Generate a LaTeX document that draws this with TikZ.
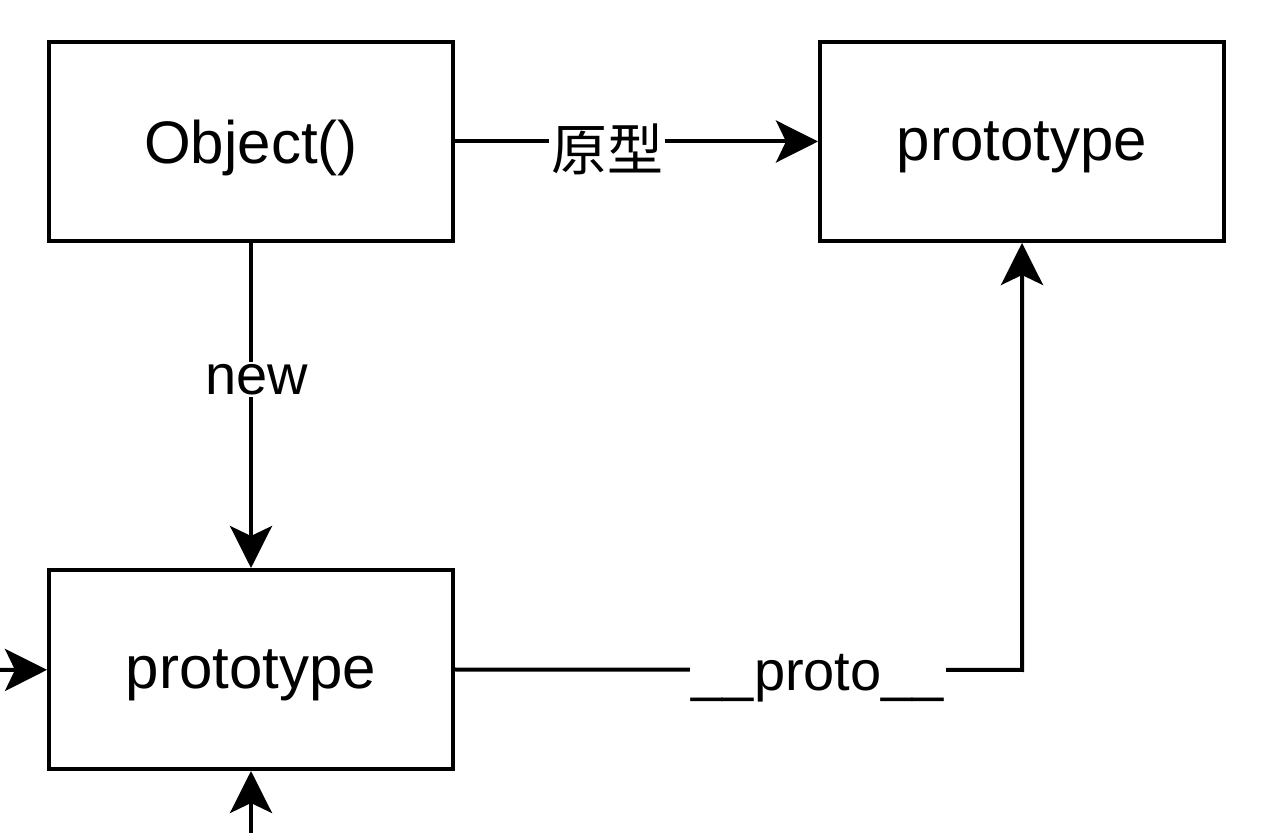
\documentclass[tikz,border=0pt]{standalone}
\usepackage{fontspec}
\setmainfont{Liberation Sans}
\newfontfamily\cjk{Noto Sans CJK SC}
\usetikzlibrary{arrows.meta}
\newcommand{\boxtext}[1]{\raisebox{-3pt}[\height][\depth]{#1}}
\begin{document}
\begin{tikzpicture}[x=0.5pt,y=-0.5pt,
  box/.style={draw=black,line width=2pt,minimum width=202pt,minimum height=99.5pt,inner sep=0pt,font=\fontsize{30}{36}\selectfont},
  conn/.style={line width=2pt,-{Stealth[length=21pt,width=21pt,inset=5pt]}},
  lbl/.style={fill=white,inner sep=1pt,font=\fontsize{28}{34}\selectfont}]
\useasboundingbox (0,0) rectangle (1280,833);
\node[box] (obj) at (251,141.5) {\boxtext{Object()}};
\node[box] (proto1) at (1022,141.5) {\boxtext{prototype}};
\node[box] (proto2) at (251,669.5) {\boxtext{prototype}};
\coordinate (leftin) at (-30,670);
\coordinate (botin) at (251,870);
\coordinate (corner) at (1022,670);
\draw[conn] (obj) -- node[lbl,pos=0.42,yshift=-4pt]{\cjk\fontsize{28}{34}\selectfont 原型} (proto1);
\draw[conn] (obj) -- node[lbl,pos=0.42,xshift=3pt]{new} (proto2);
\draw[conn] (proto2.east) -- node[lbl,pos=0.64,yshift=-4pt]{\_\_proto\_\_} (corner) -- (proto1);
\draw[conn] (leftin) -- (proto2);
\draw[conn] (botin) -- (proto2);
\end{tikzpicture}
\end{document}
